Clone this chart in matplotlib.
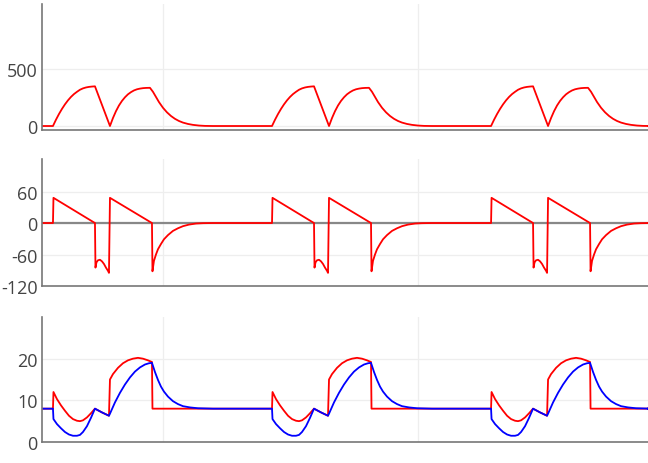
import numpy as np
import matplotlib
matplotlib.use("Agg")
import matplotlib.pyplot as plt

plt.rcParams['font.family'] = ['Open Sans', 'DejaVu Sans']

PX = 255.0  # pixels per second in reference
cycle_starts = [0.568, 1.427, 2.286]  # s

# one cardiac cycle, offsets in px (converted to s) and values
p1_off = [0,3,6,9,12,15,18,21,24,27,30,33,36,39,42,57,60,63,66,69,72,75,78,81,84,87,90,93,97,
          100,103,106,110,114,118,122,126,130,135,140,146,152,160]
p1_val = [0,55,105,150,190,225,255,280,300,318,330,338,343,346,348,0,70,130,180,220,252,278,297,
          312,322,328,332,334,335,300,255,210,160,120,88,63,44,30,18,10,4,1,0]

p2_off = [0,0.5,42,42.5,43.5,45,47,49,51,53,55,56,57,99,99.5,101,103,105,108,111,115,120,125,
          130,136,143,150,160]
p2_val = [0,48,0,-85,-75,-71,-70,-73,-78,-85,-91,-95,48,0,-92,-72,-60,-50,-40,-31,-23,-15,-10,
          -6,-3,-1,-0.3,0]

p3r_off = [0,0.5,4,8,12,16,20,24,27,30,34,38,42,49,56,57,60,65,70,75,80,85,90,95,99,99.5,160]
p3r_val = [8,12,10.3,8.8,7.5,6.3,5.5,5.1,5,5.2,5.9,6.9,8,7.1,6.3,15,16.3,17.8,18.9,19.6,20,20.2,
           20,19.6,19.2,8,8]

p3b_off = [-3,0,0.5,4,8,12,16,20,24,27,30,34,38,42,49,56,57,62,67,72,77,82,87,92,96,99,
           102,105,108,111,115,120,125,130,137,145,160]
p3b_val = [8,8,5.5,4.3,3.3,2.4,1.8,1.5,1.5,1.7,2.4,3.8,5.8,8,7.1,6.3,6.8,9.5,11.8,13.8,15.5,
           16.9,17.9,18.6,18.9,19,16.8,14.9,13.3,12.1,10.9,9.8,9.1,8.6,8.3,8.1,8]

baseline = {"p1": 0, "p2": 0, "p3r": 8, "p3b": 8}
t0, t1 = 0.525, 0.525 + 606 / PX

def build(off, val, base):
    ts, vs = [t0], [base]
    for s in cycle_starts:
        ts += [s + o / PX for o in off]
        vs += list(val)
    ts.append(t1); vs.append(base)
    return np.array(ts), np.array(vs)

fig = plt.figure(figsize=(6.48, 4.64), dpi=100)
W = 648; H = 464
def rect(top, bot):
    return [42 / W, (H - bot) / H, 606 / W, (bot - top) / H]

ax1 = fig.add_axes(rect(5, 131))
ax2 = fig.add_axes(rect(160, 287))
ax3 = fig.add_axes(rect(318, 443))

for ax in (ax1, ax2, ax3):
    ax.set_xlim(t0, t1)
    ax.set_xticks([1, 2])
    ax.set_xticklabels([])
    for s in ("top", "right"):
        ax.spines[s].set_visible(False)
    for s in ("left", "bottom"):
        ax.spines[s].set_color("#777777")
        ax.spines[s].set_linewidth(1.2)
    ax.grid(True, color="#eeeeee", linewidth=0.9)
    ax.set_axisbelow(True)
    ax.tick_params(length=0, labelsize=13, labelcolor="#444444", pad=3)

t, v = build(p1_off, p1_val, baseline["p1"])
ax1.plot(t, v, color="red", lw=1.3)
ax1.set_ylim(-35, 1070)
ax1.set_yticks([0, 500])

ax2.axhline(0, color="#888888", lw=1.6, zorder=1)
t, v = build(p2_off, p2_val, baseline["p2"])
ax2.plot(t, v, color="red", lw=1.3, zorder=2)
ax2.set_ylim(-116, 122)
ax2.set_yticks([-120, -60, 0, 60])
ax2.set_yticklabels(["-120", "-60", "0", "60"])

t, v = build(p3r_off, p3r_val, baseline["p3r"])
ax3.plot(t, v, color="red", lw=1.3)
t, v = build(p3b_off, p3b_val, baseline["p3b"])
ax3.plot(t, v, color="blue", lw=1.3)
ax3.set_ylim(0, 30)
ax3.set_yticks([0, 10, 20])

fig.savefig("out.png", dpi=100)
